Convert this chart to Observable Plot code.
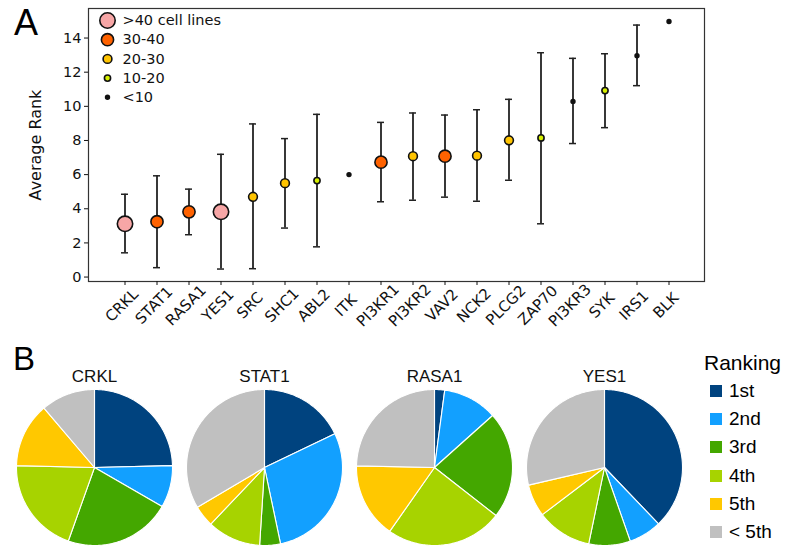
<!DOCTYPE html>
<html>
<head>
<meta charset="utf-8">
<script src="https://cdn.jsdelivr.net/npm/d3@7"></script>
<script src="https://cdn.jsdelivr.net/npm/@observablehq/plot@0.6"></script>
<style>
  html, body { margin: 0; padding: 0; background: #fff; }
  #root { position: relative; width: 786px; height: 546px; overflow: hidden; background: #fff; }
  .panel { position: absolute; left: 0; }
  .letter { position: absolute; font-family: "Liberation Sans", Arial, sans-serif; color: #000; }
  #legendB { position: absolute; left: 704px; top: 349px; font-family: "Liberation Sans", Arial, sans-serif; color: #000; }
  #legendB .title { font-size: 21px; line-height: 28px; margin-bottom: 0px; }
  #legendB .item { display: flex; align-items: center; height: 28.2px; font-size: 19px; padding-left: 6px; }
  #legendB .sw { width: 12px; height: 12px; margin-right: 7px; }
</style>
</head>
<body>
<div id="root">
  <div id="panelA" class="panel" style="top:0px;"></div>
  <div id="panelB" class="panel" style="top:340px;"></div>
  <div class="letter" style="left:14px; top:2px; font-size:36px;">A</div>
  <div class="letter" style="left:13px; top:340px; font-size:33px;">B</div>
  <div id="legendB"></div>
</div>
<script>
// ---------- Panel A data ----------
const genes = ["CRKL","STAT1","RASA1","YES1","SRC","SHC1","ABL2","ITK","PI3KR1","PI3KR2","VAV2","NCK2","PLCG2","ZAP70","PI3KR3","SYK","IRS1","BLK"];
const avgRank  = [3.12, 3.24, 3.82, 3.82, 4.70, 5.50, 5.65, 6.00, 6.73, 7.08, 7.08, 7.11, 8.01, 8.15, 10.29, 10.92, 12.96, 14.97];
const rankLow  = [1.42, 0.55, 2.48, 0.47, 0.49, 2.87, 1.77, null, 4.41, 4.50, 4.68, 4.44, 5.67, 3.12, 7.82, 8.75, 11.21, null];
const rankHigh = [4.85, 5.93, 5.15, 7.19, 8.97, 8.11, 9.53, null, 9.06, 9.61, 9.49, 9.80, 10.41, 13.14, 12.81, 13.08, 14.76, null];
const cellLineGroup = [">40 cell lines","30-40","30-40",">40 cell lines","20-30","20-30","10-20","<10","30-40","20-30","30-40","20-30","20-30","10-20","<10","10-20","<10","<10"];
const groupLabels = [">40 cell lines","30-40","20-30","10-20","<10"];
const groupColors = ["#f7a6a6","#ff6200","#ffc400","#d6f000","#111111"];
const groupRadius = [7.7, 6.1, 4.4, 3.1, 1.9];
const yTicks = [0, 2, 4, 6, 8, 10, 12, 14];

// ---------- Panel B data ----------
const pieGenes = ["CRKL","STAT1","RASA1","YES1"];
const rankLabels = ["1st","2nd","3rd","4th","5th","< 5th"];
const rankColors = ["#00437f","#12a0ff","#44a700","#a7d300","#ffc800","#c0c0c0"];
const crklShares  = [24.6, 8.7, 22.1, 19.9, 13.4, 11.2];
const stat1Shares = [17.9, 28.8, 4.3, 11.1, 4.4, 33.5];
const rasa1Shares = [2.1, 11.3, 22.2, 24.2, 15.6, 24.7];
const yes1Shares  = [37.8, 6.8, 8.6, 11.4, 6.7, 28.6];
const pieShares = [crklShares, stat1Shares, rasa1Shares, yes1Shares];

// ---------- Panel A ----------
const rowsA = genes.map((g, i) => ({gene: g, avg: avgRank[i], lo: rankLow[i], hi: rankHigh[i], group: cellLineGroup[i]}));
const withBars = rowsA.filter(d => d.lo != null);

const legendMarks = groupLabels.flatMap((g, i) => [
  Plot.dot([g], {frameAnchor: "top-left", dx: 19, dy: 12 + i * 19.2, r: groupRadius[i], fill: groupColors[i], stroke: "#111", strokeWidth: 1.6}),
  Plot.text([g], {frameAnchor: "top-left", dx: 34, dy: 12 + i * 19.2, text: d => d, textAnchor: "start", lineAnchor: "middle", fontSize: 14.5, fill: "#111"})
]);

const dotMarks = groupLabels.map((g, i) =>
  Plot.dot(rowsA.filter(d => d.group === g), {x: "gene", y: "avg", r: groupRadius[i], fill: groupColors[i], stroke: "#111", strokeWidth: 1.6})
);

const plotA = Plot.plot({
  width: 786,
  height: 340,
  marginLeft: 88,
  marginRight: 82,
  marginTop: 8,
  marginBottom: 59,
  style: {fontFamily: "DejaVu Sans, sans-serif", fontSize: "14px", color: "#111", background: "white"},
  x: {type: "band", domain: genes, paddingInner: 0.787, paddingOuter: 0.753},
  y: {domain: [-0.26, 15.73]},
  marks: [
    Plot.frame({stroke: "#333", strokeWidth: 1.2}),
    Plot.axisY({ticks: yTicks, tickSize: 4, tickPadding: 3, fontSize: 14.5, label: null}),
    Plot.axisX({tickSize: 4, tickFormat: () => "", label: null}),
    Plot.text(genes, {x: d => d, frameAnchor: "bottom", rotate: -45, textAnchor: "middle", lineAnchor: "middle", dx: -3, dy: 24, fontSize: 15, fill: "#111"}),
    Plot.text(["Average Rank"], {frameAnchor: "left", dx: -53, rotate: -90, textAnchor: "middle", lineAnchor: "middle", fontSize: 16, fill: "#111"}),
    Plot.ruleX(withBars, {x: "gene", y1: "lo", y2: "hi", stroke: "#222", strokeWidth: 1.8}),
    Plot.tickY(withBars, {x: "gene", y: "lo", stroke: "#222", strokeWidth: 1.5}),
    Plot.tickY(withBars, {x: "gene", y: "hi", stroke: "#222", strokeWidth: 1.5}),
    ...dotMarks,
    ...legendMarks
  ]
});
document.getElementById("panelA").appendChild(plotA);

// ---------- Panel B ----------
const pieRows = [];
pieGenes.forEach((g, gi) => {
  const arcs = d3.pie().sort(null).value(d => d)(pieShares[gi]);
  arcs.forEach((a, ri) => {
    const id = g + "-" + ri;
    const pts = [[0, 0]];
    const n = Math.max(2, Math.ceil((a.endAngle - a.startAngle) / (Math.PI / 180)));
    for (let k = 0; k <= n; k++) {
      const t = a.startAngle + (a.endAngle - a.startAngle) * k / n;
      pts.push([Math.sin(t), Math.cos(t)]);
    }
    pts.push([0, 0]);
    pts.forEach(([px, py]) => pieRows.push({gene: g, rank: rankLabels[ri], id, px, py}));
  });
});

const plotB = Plot.plot({
  width: 786,
  height: 206,
  marginLeft: 15,
  marginRight: 104,
  marginTop: 49,
  marginBottom: 1,
  style: {fontFamily: "Liberation Sans, Arial, sans-serif", fontSize: "16px", color: "#111", background: "white"},
  fx: {domain: pieGenes, paddingInner: 14 / 170, paddingOuter: 0, axis: null, label: null},
  x: {domain: [-1, 1], axis: null},
  y: {domain: [-1, 1], axis: null},
  color: {domain: rankLabels, range: rankColors},
  marks: [
    Plot.line(pieRows, {fx: "gene", x: "px", y: "py", z: "id", fill: "rank", stroke: "white", strokeWidth: 1.1}),
    Plot.text(pieGenes, {fx: d => d, text: d => d, frameAnchor: "top", dy: -20, fontSize: 17, fill: "#111"})
  ]
});
document.getElementById("panelB").appendChild(plotB);

// ---------- Legend B ----------
const leg = document.getElementById("legendB");
const t = document.createElement("div");
t.className = "title";
t.textContent = "Ranking";
leg.appendChild(t);
rankLabels.forEach((r, i) => {
  const it = document.createElement("div");
  it.className = "item";
  const sw = document.createElement("div");
  sw.className = "sw";
  sw.style.background = rankColors[i];
  const lab = document.createElement("span");
  lab.textContent = r;
  it.appendChild(sw);
  it.appendChild(lab);
  leg.appendChild(it);
});
</script>
</body>
</html>
